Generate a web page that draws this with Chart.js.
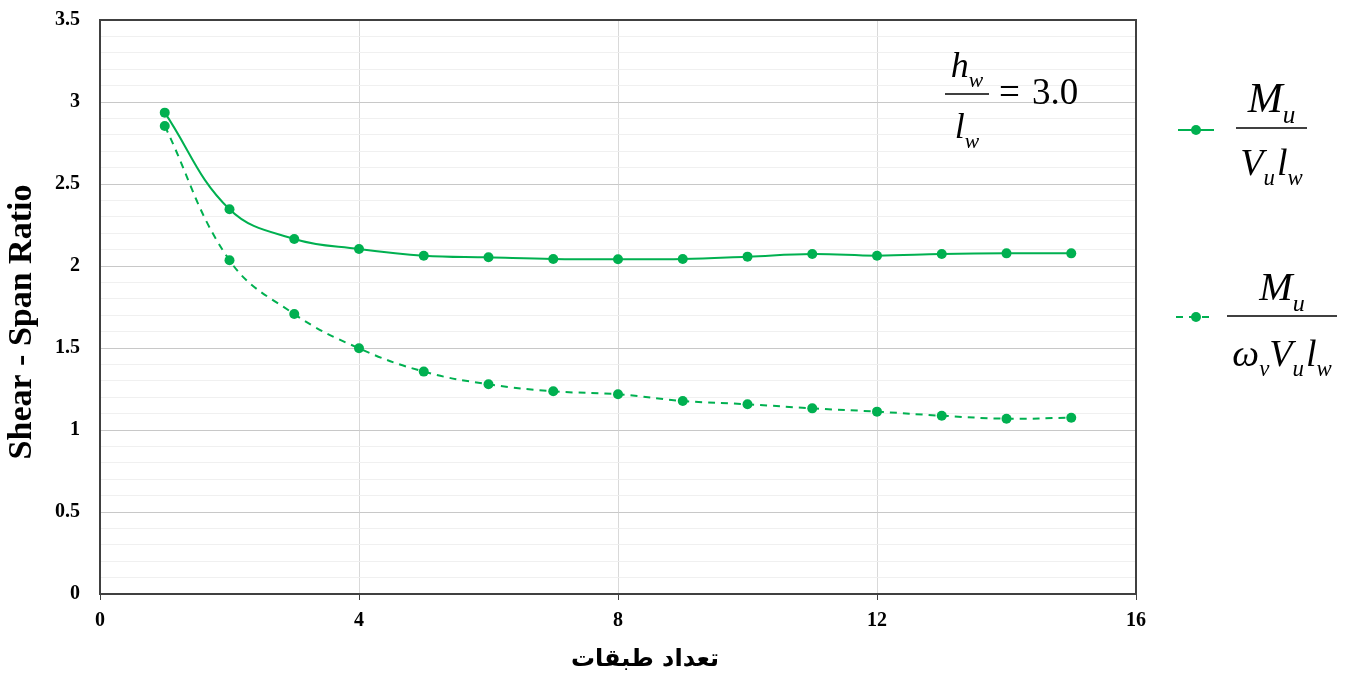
<!DOCTYPE html>
<html>
<head>
<meta charset="utf-8">
<script src="https://cdn.jsdelivr.net/npm/chart.js@4.4.1/dist/chart.umd.min.js"></script>
<style>
  html, body { margin: 0; padding: 0; background: #ffffff; }
  #wrap { width: 1346px; height: 677px; position: relative; }
</style>
</head>
<body>
<div id="wrap"><canvas id="chart" width="1346" height="677"></canvas></div>
<script>
// Number of storeys
const floors = [1, 2, 3, 4, 5, 6, 7, 8, 9, 10, 11, 12, 13, 14, 15];
// Shear-span ratio  Mu / (Vu lw)
const ratioPlain = [2.935, 2.346, 2.165, 2.104, 2.063, 2.053, 2.043, 2.041, 2.043, 2.057, 2.073, 2.063, 2.073, 2.077, 2.077];
// Shear-span ratio  Mu / (wv Vu lw)
const ratioAmplified = [2.854, 2.035, 1.707, 1.498, 1.356, 1.279, 1.236, 1.218, 1.177, 1.157, 1.132, 1.112, 1.087, 1.069, 1.075];
// Axis tick labels and titles
const xTickValues = [0, 4, 8, 12, 16];
const yMajorLabels = ['0', '0.5', '1', '1.5', '2', '2.5', '3', '3.5'];
const xTitle = 'تعداد طبقات';
const yTitle = 'Shear - Span Ratio';

const GREEN = '#00B050';
const AXIS = '#404040';
const SERIF = '"Liberation Serif", "Times New Roman", serif';

const toPoints = (ys) => floors.map((x, i) => ({ x: x, y: ys[i] }));

// Draws a run of math pieces {t, sub, dx} left to right from (x, baseline y)
function drawMath(ctx, x, y, parts, size) {
  let cx = x;
  parts.forEach(p => {
    const s = p.sub ? size * 0.6 : size;
    ctx.font = 'italic ' + s + 'px ' + SERIF;
    const dy = p.sub ? size * 0.27 : 0;
    ctx.fillText(p.t, cx + (p.dx || 0), y + dy);
    cx += ctx.measureText(p.t).width + (p.dx || 0);
  });
  return cx - x;
}
function mathWidth(ctx, parts, size) {
  let w = 0;
  parts.forEach(p => {
    const s = p.sub ? size * 0.6 : size;
    ctx.font = 'italic ' + s + 'px ' + SERIF;
    w += ctx.measureText(p.t).width + (p.dx || 0);
  });
  return w;
}
function drawFraction(ctx, f) {
  ctx.save();
  ctx.fillStyle = '#000';
  ctx.textBaseline = 'alphabetic';
  ctx.textAlign = 'left';
  const cx = (f.barL + f.barR) / 2;
  const nw = mathWidth(ctx, f.num, f.numSize);
  drawMath(ctx, cx - nw / 2, f.numBase, f.num, f.numSize);
  const dw = mathWidth(ctx, f.den, f.denSize);
  drawMath(ctx, cx - dw / 2, f.denBase, f.den, f.denSize);
  ctx.strokeStyle = '#000';
  ctx.lineWidth = 1.6;
  ctx.beginPath();
  ctx.moveTo(f.barL, f.barY);
  ctx.lineTo(f.barR, f.barY);
  ctx.stroke();
  ctx.restore();
}

const decorations = {
  id: 'decorations',
  afterDatasetsDraw(chart) {
    const ctx = chart.ctx;
    const a = chart.chartArea;
    // frame around the plot area
    ctx.save();
    ctx.strokeStyle = AXIS;
    ctx.lineWidth = 2;
    ctx.strokeRect(a.left, a.top, a.right - a.left, a.bottom - a.top);
    ctx.restore();
  },
  afterDraw(chart) {
    const ctx = chart.ctx;

    // axis titles
    ctx.save();
    ctx.fillStyle = '#000';
    ctx.font = 'bold 24px "DejaVu Sans", sans-serif';
    ctx.textAlign = 'center';
    ctx.textBaseline = 'alphabetic';
    ctx.direction = 'rtl';
    ctx.fillText(xTitle, 645, 666);
    ctx.restore();

    ctx.save();
    ctx.fillStyle = '#000';
    ctx.font = 'bold 34px ' + SERIF;
    ctx.textAlign = 'center';
    ctx.textBaseline = 'middle';
    ctx.translate(22, 322);
    ctx.rotate(-Math.PI / 2);
    ctx.fillText(yTitle, 0, 0);
    ctx.restore();

    // hw / lw = 3.0
    drawFraction(ctx, {
      barL: 945, barR: 989, barY: 94,
      num: [{ t: 'h' }, { t: 'w', sub: true }],
      den: [{ t: 'l' }, { t: 'w', sub: true }],
      numSize: 36, denSize: 36, numBase: 77, denBase: 138
    });
    ctx.save();
    ctx.fillStyle = '#000';
    ctx.font = '37px ' + SERIF;
    ctx.textBaseline = 'alphabetic';
    ctx.fillText('=', 999, 104);
    ctx.fillText('3.0', 1032, 104);
    ctx.restore();

    // legend samples
    const sample = (y, dashed) => {
      ctx.save();
      ctx.strokeStyle = GREEN;
      ctx.lineWidth = 2;
      if (dashed) ctx.setLineDash([7, 6]);
      ctx.beginPath();
      ctx.moveTo(dashed ? 1176 : 1178, y);
      ctx.lineTo(1214, y);
      ctx.stroke();
      ctx.setLineDash([]);
      ctx.fillStyle = GREEN;
      ctx.beginPath();
      ctx.arc(1196, y, 5, 0, Math.PI * 2);
      ctx.fill();
      ctx.restore();
    };
    sample(130, false);
    sample(317, true);

    drawFraction(ctx, {
      barL: 1236, barR: 1307, barY: 128,
      num: [{ t: 'M' }, { t: 'u', sub: true }],
      den: [{ t: 'V' }, { t: 'u', sub: true }, { t: 'l', dx: 2 }, { t: 'w', sub: true }],
      numSize: 42, denSize: 38, numBase: 112, denBase: 175
    });
    drawFraction(ctx, {
      barL: 1227, barR: 1337, barY: 316,
      num: [{ t: 'M' }, { t: 'u', sub: true }],
      den: [{ t: 'ω' }, { t: 'v', sub: true }, { t: 'V' }, { t: 'u', sub: true }, { t: 'l', dx: 2 }, { t: 'w', sub: true }],
      numSize: 40, denSize: 38, numBase: 300, denBase: 366
    });
  }
};

new Chart(document.getElementById('chart'), {
  type: 'scatter',
  data: {
    datasets: [
      {
        label: 'Mu/(Vu lw)',
        data: toPoints(ratioPlain),
        showLine: true,
        borderColor: GREEN,
        backgroundColor: GREEN,
        borderWidth: 2,
        pointRadius: 5,
        pointHoverRadius: 5,
        pointBorderWidth: 0,
        tension: 0.4
      },
      {
        label: 'Mu/(wv Vu lw)',
        data: toPoints(ratioAmplified),
        showLine: true,
        borderColor: GREEN,
        backgroundColor: GREEN,
        borderWidth: 2,
        borderDash: [7, 6],
        pointRadius: 5,
        pointHoverRadius: 5,
        pointBorderWidth: 0,
        tension: 0.4
      }
    ]
  },
  options: {
    responsive: false,
    animation: false,
    devicePixelRatio: 1,
    layout: { padding: { left: 0, top: 20, right: 210, bottom: 0 } },
    plugins: {
      legend: { display: false },
      tooltip: { enabled: false }
    },
    scales: {
      x: {
        type: 'linear',
        min: 0,
        max: 16,
        afterBuildTicks(scale) {
          scale.ticks = xTickValues.map(v => ({ value: v }));
        },
        afterFit(scale) { scale.height = 83; },
        ticks: {
          color: '#000',
          padding: 9,
          font: { family: SERIF, size: 20, weight: 'bold' }
        },
        grid: {
          color: '#d9d9d9',
          lineWidth: 1,
          tickColor: AXIS,
          tickLength: 6
        },
        border: { display: true, color: AXIS, width: 2 },
        title: { display: false }
      },
      y: {
        type: 'linear',
        min: 0,
        max: 3.5,
        afterFit(scale) { scale.width = 100; },
        ticks: {
          stepSize: 0.1,
          autoSkip: false,
          color: '#000',
          padding: 8,
          font: { family: SERIF, size: 20, weight: 'bold' },
          callback(value) {
            const k = Math.round(value * 10);
            return k % 5 === 0 ? yMajorLabels[k / 5] : '';
          }
        },
        grid: {
          drawTicks: true,
          tickLength: 12,
          tickColor: 'rgba(0,0,0,0)',
          lineWidth: 1,
          color(c) {
            const k = Math.round(c.tick.value * 10);
            return k % 5 === 0 ? '#c8c8c8' : '#f0f0f0';
          }
        },
        border: { display: true, color: AXIS, width: 2 },
        title: { display: false }
      }
    }
  },
  plugins: [decorations]
});
</script>
</body>
</html>
